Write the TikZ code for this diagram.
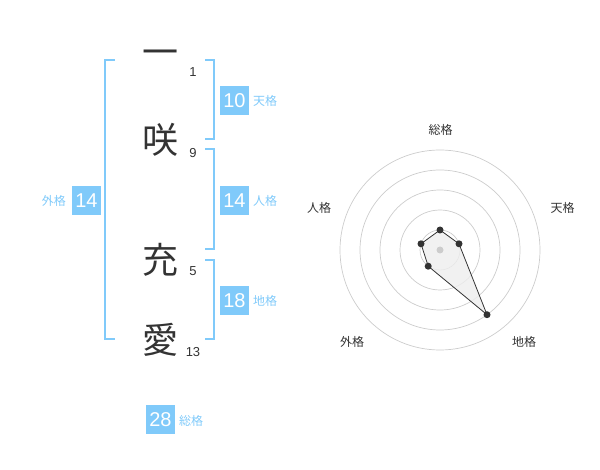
\documentclass[tikz,border=0pt]{standalone}
\usepackage{fontspec}
\usetikzlibrary{calc}
\setmainfont{Liberation Sans}
\newfontfamily\cjk{Noto Sans CJK JP}
\definecolor{kblue}{RGB}{128,202,250}
\definecolor{kdark}{RGB}{51,51,51}
\definecolor{kgrid}{RGB}{204,204,204}
\definecolor{kfill}{RGB}{238,238,238}
\tikzset{
  kanji/.style={inner sep=0pt, text=kdark, font=\cjk\fontsize{36}{36}\selectfont},
  strokes/.style={inner sep=0pt, text=kdark, font=\fontsize{13}{13}\selectfont},
  scorebox/.style={inner sep=0pt, minimum size=29pt, fill=kblue, text=white, font=\fontsize{20}{20}\selectfont},
  scorelabel/.style={inner sep=0pt, text=kblue, font=\cjk\fontsize{12}{12}\selectfont},
  bracket/.style={draw=kblue, line width=1.6pt},
  ring/.style={draw=kgrid, line width=0.7pt},
  axislabel/.style={inner sep=0pt, text=kdark, font=\cjk\fontsize{12}{12}\selectfont},
  datadot/.style={circle, fill=kdark, inner sep=0pt, minimum size=7pt},
}
\begin{document}
\begin{tikzpicture}[x=1pt,y=-1pt]
\useasboundingbox (0,0) rectangle (600,470);
% kanji
\node[kanji] (k1) at (160,58) {一};
\node[kanji] (k2) at (160,140) {咲};
\node[kanji] (k3) at (160,260) {充};
\node[kanji] (k4) at (160,340) {愛};
\node[strokes] (s1) at (193,72.5) {1};
\node[strokes] (s2) at (193,153) {9};
\node[strokes] (s3) at (193,271) {5};
\node[strokes] (s4) at (193,352) {13};
% brackets
\coordinate (lbA) at (115,60); \coordinate (lbB) at (105,60);
\coordinate (lbC) at (105,339); \coordinate (lbD) at (115,339);
\draw[bracket] (lbA) -- (lbB) -- (lbC) -- (lbD);
\coordinate (tA) at (205,60); \coordinate (tB) at (214,60);
\coordinate (tC) at (214,139); \coordinate (tD) at (205,139);
\draw[bracket] (tA) -- (tB) -- (tC) -- (tD);
\coordinate (jA) at (205,149); \coordinate (jB) at (214,149);
\coordinate (jC) at (214,249); \coordinate (jD) at (205,249);
\draw[bracket] (jA) -- (jB) -- (jC) -- (jD);
\coordinate (cA) at (205,260); \coordinate (cB) at (214,260);
\coordinate (cC) at (214,339); \coordinate (cD) at (205,339);
\draw[bracket] (cA) -- (cB) -- (cC) -- (cD);
% score boxes
\node[scorebox] (ten) at (234.5,100.5) {10};
\node[scorelabel, anchor=west] (tenL) at (253,101) {天格};
\node[scorebox] (jin) at (234.5,200.5) {14};
\node[scorelabel, anchor=west] (jinL) at (253,201) {人格};
\node[scorebox] (chi) at (234.5,300.5) {18};
\node[scorelabel, anchor=west] (chiL) at (253,301) {地格};
\node[scorebox] (gai) at (86.5,200.5) {14};
\node[scorelabel, anchor=east] (gaiL) at (66,201) {外格};
\node[scorebox] (sou) at (160.5,419.5) {28};
\node[scorelabel, anchor=west] (souL) at (179,421) {総格};
% radar chart
\coordinate (ctr) at (440,250);
\foreach \r in {20,40,60,80,100} \draw[ring] (ctr) circle (\r);
\coordinate (pS) at ($(ctr)+(0,-20)$);
\coordinate (pT) at ($(ctr)+(19.0,-6.2)$);
\coordinate (pC) at ($(ctr)+(47.0,64.7)$);
\coordinate (pG) at ($(ctr)+(-11.8,16.2)$);
\coordinate (pJ) at ($(ctr)+(-19.0,-6.2)$);
\draw[kdark, line width=0.8pt, fill=kfill, fill opacity=0.8] (pS) -- (pT) -- (pC) -- (pG) -- (pJ) -- cycle;
\node[circle, fill=kgrid, inner sep=0pt, minimum size=7pt] (cdot) at (ctr) {};
\foreach \p in {pS,pT,pC,pG,pJ} \node[datadot] at (\p) {};
\node[axislabel] (aS) at (440.5,130) {総格};
\node[axislabel] (aT) at (562.5,208) {天格};
\node[axislabel] (aC) at (524,342) {地格};
\node[axislabel] (aG) at (352,342) {外格};
\node[axislabel] (aJ) at (319,208) {人格};
\end{tikzpicture}
\end{document}
